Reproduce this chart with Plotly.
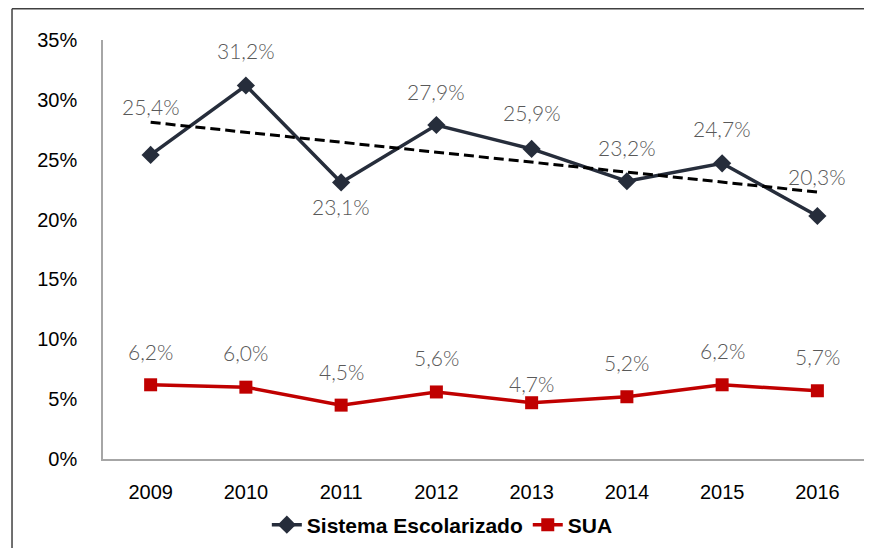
import numpy as np
import plotly.graph_objects as go

years = ["2009", "2010", "2011", "2012", "2013", "2014", "2015", "2016"]
escolarizado = [25.4, 31.2, 23.1, 27.9, 25.9, 23.2, 24.7, 20.3]
sua = [6.2, 6.0, 4.5, 5.6, 4.7, 5.2, 6.2, 5.7]
y_ticks = [0, 5, 10, 15, 20, 25, 30, 35]

# label offsets (pixels) for data labels
esc_shift = [48, 35, -24, 34, 36, 34, 35, 39]
sua_shift = [33, 35, 34, 34, 19, 34, 34, 34]

# category positions
xpos = list(range(len(years)))

# linear trendline computed from the data
slope, intercept = np.polyfit(np.array(xpos, dtype=float), np.array(escolarizado), 1)
trend = [float(slope * i + intercept) for i in xpos]

navy = "#262d3b"
red = "#c00000"

fig = go.Figure()
fig.add_trace(go.Scatter(
    x=xpos, y=escolarizado, mode="lines+markers", name="Sistema Escolarizado",
    line=dict(color=navy, width=3.5),
    marker=dict(symbol="diamond", size=14, color=navy),
))
fig.add_trace(go.Scatter(
    x=xpos, y=sua, mode="lines+markers", name="SUA",
    line=dict(color=red, width=3.5),
    marker=dict(symbol="square", size=13, color=red),
))
fig.add_trace(go.Scatter(
    x=xpos, y=trend, mode="lines", showlegend=False, hoverinfo="skip",
    line=dict(color="#000000", width=3, dash="10px,5px"),
))

def fmt(v):
    return f"{v:.1f}".replace(".", ",") + "%"

label_font = dict(family="Lato", size=21, color="#595959", weight=300)
annotations = []
for xp, v, s in zip(xpos, escolarizado, esc_shift):
    annotations.append(dict(x=xp, y=v, text=fmt(v), showarrow=False, yshift=s, font=label_font))
for xp, v, s in zip(xpos, sua, sua_shift):
    annotations.append(dict(x=xp, y=v, text=fmt(v), showarrow=False, yshift=s, font=label_font))

fig.update_layout(
    width=864, height=548,
    margin=dict(l=95, r=7, t=32, b=97),
    paper_bgcolor="white", plot_bgcolor="white",
    annotations=annotations,
    showlegend=True,
    legend=dict(orientation="h", x=0.215, y=-0.1575, xanchor="left", yanchor="middle",
                font=dict(family="Liberation Sans", size=21, color="#000000", weight="bold"),
                bgcolor="rgba(0,0,0,0)"),
    shapes=[
        dict(type="line", xref="paper", yref="paper", x0=-0.1194, x1=-0.1194, y0=-0.25, y1=1.0746,
             line=dict(color="#404040", width=1.5)),
        dict(type="line", xref="paper", yref="paper", x0=-0.1194, x1=1.02, y0=1.0746, y1=1.0746,
             line=dict(color="#404040", width=1.5)),
    ],
)
fig.update_xaxes(
    range=[-0.5, 7.5], tickvals=xpos, ticktext=years,
    showgrid=False, showline=True, linecolor="#a6a6a6", linewidth=1.5,
    tickfont=dict(family="Liberation Sans", size=20, color="#000000"),
    ticks="", ticklabelstandoff=14, zeroline=False,
)
fig.update_yaxes(
    range=[0, 35], tickvals=y_ticks, ticktext=[f"{t}%" for t in y_ticks],
    showgrid=False, showline=True, linecolor="#a6a6a6", linewidth=1.5,
    tickfont=dict(family="Liberation Sans", size=20, color="#000000"),
    ticks="", ticklabelstandoff=20, zeroline=False,
)

fig.write_html("out.html")
